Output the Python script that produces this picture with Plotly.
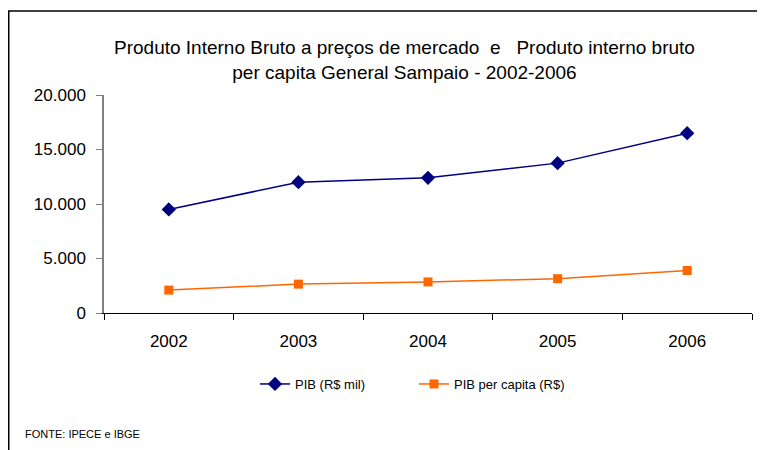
import plotly.graph_objects as go

years = ['2002', '2003', '2004', '2005', '2006']
pib_mil = [9500, 12000, 12400, 13750, 16500]
pib_per_capita = [2100, 2650, 2850, 3150, 3900]

# the page body adds an 8px offset, so layout is planned in page pixels
OFF = 8
W, H = 765, 450
ML, MR, MT, MB = 96, 21, 87, 145
PW, PH = W - ML - MR, H - MT - MB


def px(x):
    return (x - OFF - ML) / PW


def py(y):
    return (H - MB - (y - OFF)) / PH


font = 'Liberation Sans, Arial'

fig = go.Figure()
fig.add_trace(go.Scatter(
    x=years, y=pib_mil, name='PIB (R$ mil)', mode='lines+markers',
    line=dict(color='#000080', width=1.5),
    marker=dict(symbol='diamond', size=11, color='#000080'),
))
fig.add_trace(go.Scatter(
    x=years, y=pib_per_capita, name='PIB per capita (R$)', mode='lines+markers',
    line=dict(color='#FF6600', width=1.5),
    marker=dict(symbol='square', size=9, color='#FF6600'),
))

# chart frame (left and top edges only visible)
fig.add_shape(type='line', xref='paper', yref='paper',
              x0=px(8.75), x1=px(8.75), y0=py(11), y1=py(H + 20),
              line=dict(color='black', width=1.5))
fig.add_shape(type='line', xref='paper', yref='paper',
              x0=px(8), x1=px(W + 20), y0=py(11), y1=py(11),
              line=dict(color='black', width=1.5))

fig.add_annotation(
    text='Produto Interno Bruto a preços de mercado  e   Produto interno bruto<br>per capita General Sampaio - 2002-2006',
    xref='paper', yref='paper', x=px(404), y=py(60), xanchor='center', yanchor='middle',
    showarrow=False, font=dict(family=font, size=19, color='black'),
)
fig.add_annotation(
    text='FONTE: IPECE e IBGE', xref='paper', yref='paper',
    x=px(23), y=py(434), xanchor='left', yanchor='middle', showarrow=False,
    font=dict(family=font, size=11, color='black'),
)

fig.update_layout(
    width=W, height=H,
    margin=dict(l=ML, r=MR, t=MT, b=MB),
    paper_bgcolor='white', plot_bgcolor='white',
    separators=',.',
    font=dict(family=font, color='black'),
    showlegend=True,
    legend=dict(orientation='h', x=px(255), y=py(384), xanchor='left', yanchor='middle',
                font=dict(family=font, size=13), entrywidth=114, tracegroupgap=0),
    xaxis=dict(
        type='category', range=[-0.5, 4.5], tickson='boundaries',
        ticks='outside', ticklen=6, tickcolor='black',
        showline=True, linecolor='black', linewidth=1,
        showgrid=False, tickfont=dict(size=17), ticklabelstandoff=13,
    ),
    yaxis=dict(
        range=[0, 20000], dtick=5000, tickformat=',.0f',
        ticks='outside', ticklen=6, tickcolor='#808080',
        showline=True, linecolor='#808080', linewidth=1.5,
        showgrid=False, zeroline=False, tickfont=dict(size=17),
        ticklabelstandoff=7,
    ),
)

fig.write_html('out.html')
